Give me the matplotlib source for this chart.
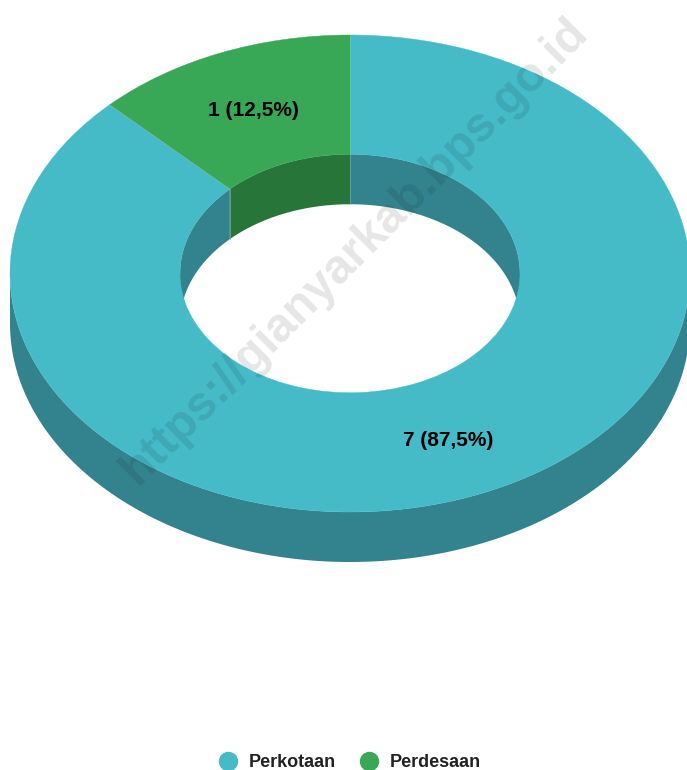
import numpy as np
import matplotlib
matplotlib.use("Agg")
import matplotlib.pyplot as plt
from matplotlib.lines import Line2D

plt.rcParams['font.family'] = ['Liberation Sans', 'DejaVu Sans']

categories = ["Perkotaan", "Perdesaan"]
values = [7, 1]
labels = ["7 (87,5%)", "1 (12,5%)"]
colors = ["#45BBC8", "#38A857"]
dark_colors = ["#33838F", "#277539"]
watermark = "https://gianyarkab.bps.go.id"

W, H = 687, 770
cx, cy = 350, 273.5
rx, ry = 340, 238.5
depth = 50 / ry   # wall height, in y units of the ring
hole = 0.5

fig = plt.figure(figsize=(W / 100, H / 100), dpi=100)
ax = fig.add_axes([0, 0, 1, 1])


def arc(r, a0, a1, dy=0.0):
    t = np.radians(np.linspace(a0, a1, 200))
    return r * np.cos(t), r * np.sin(t) + dy


def wall(r, a0, a1, color):
    x, y = arc(r, a0, a1)
    x2, y2 = arc(r, a1, a0, -depth)
    ax.fill(np.r_[x, x2], np.r_[y, y2], color=color, lw=0, zorder=1)


# slices run clockwise from 12 o'clock, teal first
total = sum(values)
start = 90
spans = []
for v in values:
    end = start - 360 * v / total
    spans.append((end, start))
    start = end

for (a0, a1), dark in zip(spans, dark_colors):
    # outer wall, front half only
    lo, hi = max(a0, -180), min(a1, 0)
    if lo < hi:
        wall(1, lo, hi, dark)
    # inner wall, back half only
    for shift in (0, 360):
        lo, hi = max(a0 + shift, 0), min(a1 + shift, 180)
        if lo < hi:
            wall(hole, lo, hi, dark)
            for edge in (lo, hi):
                if edge not in (0, 180):
                    ex, ey = arc(hole, edge, edge)
                    ax.plot([ex[0], ex[0]], [ey[0], ey[0] - depth],
                            color="#6FA5A8", lw=0.4, zorder=1.5)

wedges, _ = ax.pie(values, colors=colors, startangle=90, counterclock=False,
                   radius=1, frame=True,
                   wedgeprops=dict(width=1 - hole))
for w in wedges:
    w.set_zorder(2)
    w.set_edgecolor(w.get_facecolor())
    w.set_linewidth(0.3)

# thin seams between the slices on the top face
for a in (90, 135):
    xo, yo = arc(1, a, a)
    ax.plot([xo[0] * hole, xo[0]], [yo[0] * hole, yo[0]], color="#7CC8B8", lw=0.4, zorder=2.5)

ax.set_aspect("auto")
ax.set_xlim(-cx / rx, (W - cx) / rx)
ax.set_ylim(-(H - cy) / ry, cy / ry)
ax.axis("off")


def to_data(px, py):
    return (px - cx) / rx, (cy - py) / ry


# value labels
for txt, (px, py) in zip(labels, [(448, 440.5), (253, 111)]):
    x, y = to_data(px, py)
    ax.text(x, y, txt, fontsize=15, fontweight="bold", color="black",
            ha="center", va="center", zorder=4)

# watermark
x, y = to_data(355, 251)
ax.text(x, y, watermark, fontsize=34.5, fontweight="bold", color="black", alpha=0.10,
        rotation=45, rotation_mode="anchor", ha="center", va="center", zorder=5)

handles = [Line2D([], [], ls="", marker="o", ms=13, mfc=c, mec=c) for c in colors]
leg = ax.legend(handles, categories, loc="lower center", bbox_to_anchor=(0.5025, -0.0222), ncol=2,
                frameon=False, handletextpad=0.15, columnspacing=0.85,
                prop=dict(size=13, weight="bold"), labelcolor="#222222")

fig.savefig("out.png", dpi=100)
